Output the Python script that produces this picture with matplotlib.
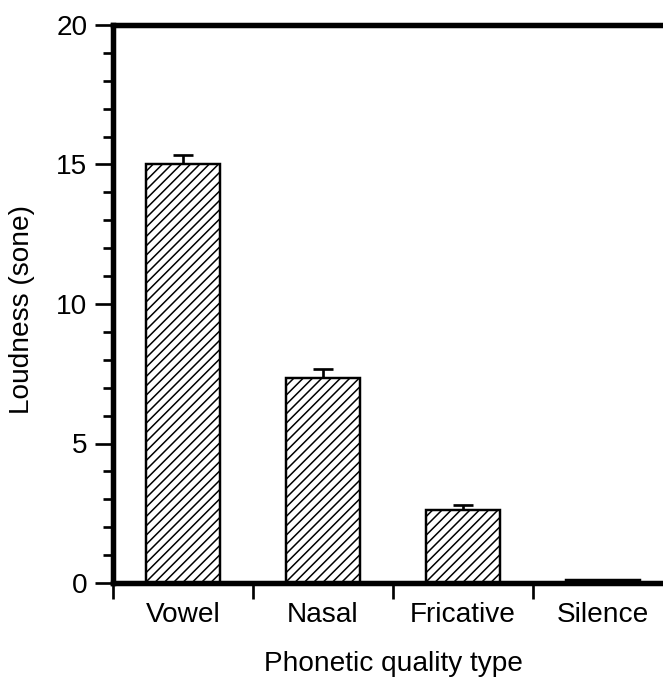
import numpy as np
import matplotlib
matplotlib.use("Agg")
import matplotlib.pyplot as plt
from matplotlib.ticker import MultipleLocator, FixedLocator

categories = ["Vowel", "Nasal", "Fricative", "Silence"]
loudness = [15.0, 7.35, 2.6, 0.1]
loudness_err = [0.35, 0.32, 0.21, np.nan]
y_ticks = [0, 5, 10, 15, 20]

plt.rcParams["font.family"] = ["Liberation Sans", "DejaVu Sans"]
plt.rcParams["hatch.linewidth"] = 1.3
plt.rcParams["hatch.color"] = "#222222"

DPI = 84
fig = plt.figure(figsize=(663 / DPI, 677 / DPI), dpi=DPI)
ax = fig.add_axes([113 / 663, 1 - 583 / 677, 560 / 663, 558 / 677])

x = np.arange(len(categories))
ax.bar(x, loudness, width=0.53, color="white", edgecolor="black",
       linewidth=2.1, hatch="///", zorder=2)

err = np.array(loudness_err, dtype=float)
has_err = ~np.isnan(err)
ax.errorbar(x[has_err], np.array(loudness)[has_err],
            yerr=[np.zeros(has_err.sum()), err[has_err]],
            fmt="none", ecolor="black", elinewidth=2.3,
            capsize=8.6, capthick=2.3, zorder=1)

ax.set_xlim(-0.5, len(categories) - 0.5)
ax.set_ylim(0, 20)

fs = 24
ax.set_yticks(y_ticks)
ax.set_yticklabels([str(v) for v in y_ticks], fontsize=fs)
ax.yaxis.set_minor_locator(MultipleLocator(1))
ax.tick_params(axis="y", which="major", direction="out", length=15.4,
               width=2.3, pad=6.5)
ax.tick_params(axis="y", which="minor", direction="out", length=8.6,
               width=2.3)

ax.set_xticks(x)
ax.set_xticklabels(categories, fontsize=fs)
ax.xaxis.set_minor_locator(FixedLocator(np.arange(len(categories)) - 0.5))
ax.tick_params(axis="x", which="major", length=0, pad=16)
ax.tick_params(axis="x", which="minor", direction="out", length=13.7,
               width=2.3)

for side in ("left", "top", "bottom"):
    ax.spines[side].set_linewidth(4.7)
ax.spines["right"].set_visible(False)

ax.set_ylabel("Loudness (sone)", fontsize=fs, va="center")
ax.yaxis.set_label_coords(-0.1625, 0.49)
ax.set_xlabel("Phonetic quality type", fontsize=fs, va="bottom")
ax.xaxis.set_label_coords(0.5, -0.168)

fig.savefig("out.png", dpi=DPI)
